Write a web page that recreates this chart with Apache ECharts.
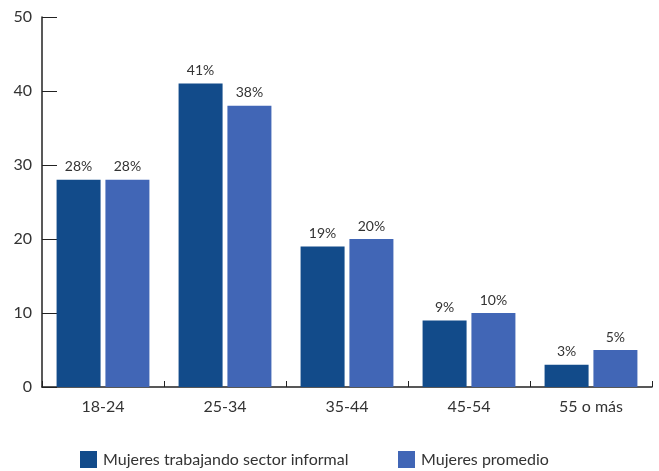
<!DOCTYPE html>
<html>
<head>
<meta charset="utf-8">
<script src="https://cdn.jsdelivr.net/npm/echarts@6/dist/echarts.min.js"></script>
<style>
  html, body { margin: 0; padding: 0; background: #fff; }
  #chart { width: 659px; height: 471px; }
</style>
</head>
<body>
<div id="chart"></div>
<script>
// Age groups and the share of women in each group (%)
const categories = ['18-24', '25-34', '35-44', '45-54', '55 o más'];
const informal = [28, 41, 19, 9, 3];
const promedio = [28, 38, 20, 10, 5];
const seriesNames = ['Mujeres trabajando sector informal', 'Mujeres promedio'];

const FONT = 'Lato, "Open Sans", sans-serif';
const TEXT = '#333';

const chart = echarts.init(document.getElementById('chart'), null, { renderer: 'canvas' });

const labelStyle = {
  show: true,
  position: 'top',
  distance: 6,
  color: TEXT,
  fontFamily: FONT,
  fontSize: 14,
  formatter: p => p.value + '%'
};

const legendBase = {
  top: 451,
  padding: 0,
  itemWidth: 17,
  itemHeight: 17,
  icon: 'rect',
  textStyle: { color: TEXT, fontFamily: FONT, fontSize: 16, padding: [0, 0, 0, 1] }
};

chart.setOption({
  animation: false,
  grid: { left: 42, right: 7, top: 17, bottom: 84, containLabel: false },
  legend: [
    Object.assign({ left: 80, data: [seriesNames[0]] }, legendBase),
    Object.assign({ left: 398, data: [seriesNames[1]] }, legendBase)
  ],
  xAxis: {
    type: 'category',
    data: categories,
    axisLine: { lineStyle: { color: '#222', width: 1.5 } },
    axisTick: { show: true, inside: true, length: 6, lineStyle: { color: '#222' } },
    axisLabel: { color: TEXT, fontFamily: FONT, fontSize: 16, margin: 12 }
  },
  yAxis: {
    type: 'value',
    min: 0,
    max: 50,
    interval: 10,
    splitLine: { show: false },
    axisLine: { show: true, lineStyle: { color: '#222', width: 1.5 } },
    axisTick: { show: true, inside: true, length: 15, lineStyle: { color: '#222' } },
    axisLabel: { color: TEXT, fontFamily: FONT, fontSize: 16, margin: 10 }
  },
  series: [
    {
      name: seriesNames[0],
      type: 'bar',
      data: informal,
      barWidth: 44,
      barGap: '11%',
      itemStyle: { color: '#124B8A' },
      label: labelStyle
    },
    {
      name: seriesNames[1],
      type: 'bar',
      data: promedio,
      barWidth: 44,
      itemStyle: { color: '#4166B6' },
      label: labelStyle
    }
  ]
});
</script>
</body>
</html>
